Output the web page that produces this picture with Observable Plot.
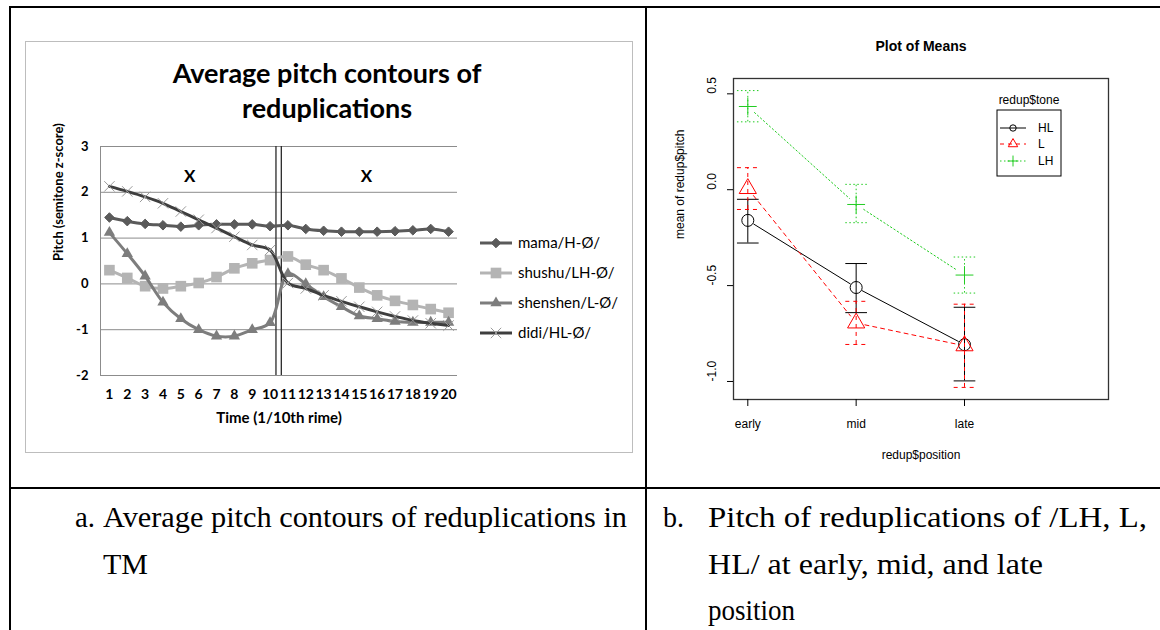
<!DOCTYPE html>
<html><head><meta charset="utf-8">
<script src="https://cdn.jsdelivr.net/npm/d3@7"></script>
<script src="https://cdn.jsdelivr.net/npm/@observablehq/plot@0.6"></script>
<style>
body{margin:0;background:#fff;}
#page{position:relative;width:1160px;height:630px;overflow:hidden;background:#fff;}
.bar{position:absolute;background:#000;}
.abs{position:absolute;}
#leftFrame{position:absolute;left:25px;top:41px;width:606px;height:410px;border:1.5px solid #bdbdbd;}
#leftTitle{position:absolute;left:77px;top:55px;width:500px;text-align:center;font-family:Lato,sans-serif;font-weight:bold;font-size:27px;line-height:35px;color:#000;}
.cap{position:absolute;font-family:"Liberation Serif","Times New Roman",serif;font-size:29px;line-height:46.5px;height:46.5px;color:#000;white-space:nowrap;transform-origin:0 50%;}
</style></head><body>
<div id="page">
  <div class="bar" style="left:9px;top:6px;width:1151px;height:2px"></div>
  <div class="bar" style="left:9px;top:6px;width:2px;height:624px"></div>
  <div class="bar" style="left:645px;top:6px;width:2px;height:624px"></div>
  <div class="bar" style="left:9px;top:487px;width:1151px;height:2px"></div>
  <div id="leftFrame"></div>
  <div id="leftTitle">Average pitch contours of<br>reduplications</div>
  <div id="leftPlot" class="abs" style="left:27px;top:43px"></div>
  <div id="rightPlot" class="abs" style="left:648px;top:14px"></div>
  <svg id="overlay" class="abs" style="left:0;top:0" width="1160" height="630"></svg>
  <div class="cap" data-w="20" style="left:75px;top:494px">a.</div>
  <div class="cap" data-w="524" style="left:103px;top:494px">Average pitch contours of reduplications in</div>
  <div class="cap" data-w="45" style="left:103px;top:540.5px">TM</div>
  <div class="cap" data-w="21" style="left:663px;top:494px">b.</div>
  <div class="cap" data-w="439" style="left:708px;top:494px">Pitch of reduplications of /LH, L,</div>
  <div class="cap" data-w="335" style="left:708px;top:540.5px">HL/ at early, mid, and late</div>
  <div class="cap" data-w="87" style="left:708px;top:587px">position</div>
</div>
<script>
// ---------- Data: chart a ----------
const timeSteps = [1,2,3,4,5,6,7,8,9,10,11,12,13,14,15,16,17,18,19,20];
const seriesNames = ["mama/H-Ø/","shushu/LH-Ø/","shenshen/L-Ø/","didi/HL-Ø/"];
const mamaPitch     = [1.45,1.37,1.31,1.28,1.25,1.28,1.30,1.30,1.30,1.26,1.28,1.20,1.16,1.14,1.14,1.14,1.15,1.17,1.20,1.14];
const shushuPitch   = [0.30,0.13,-0.05,-0.10,-0.05,0.02,0.15,0.34,0.45,0.52,0.60,0.42,0.30,0.12,-0.08,-0.25,-0.37,-0.46,-0.55,-0.63];
const shenshenPitch = [1.12,0.66,0.17,-0.40,-0.76,-1.00,-1.14,-1.14,-1.00,-0.85,0.22,0.00,-0.28,-0.50,-0.70,-0.76,-0.82,-0.84,-0.84,-0.84];
const didiPitch     = [2.13,2.02,1.90,1.76,1.58,1.40,1.22,1.03,0.85,0.74,0.02,-0.10,-0.25,-0.38,-0.50,-0.61,-0.71,-0.80,-0.86,-0.91];
const pitchTicks = [-2,-1,0,1,2,3];
const syllableMarks = [{label:"X", time:5.5, pitch:2.35},{label:"X", time:15.4, pitch:2.35}];
const syllableBoundary = [10.33, 10.63];

// ---------- Data: chart b ----------
const positions = ["early","mid","late"];
const tones = ["HL","L","LH"];
const hlMean  = [-0.160,-0.510,-0.808];
const hlUpper = [-0.050,-0.385,-0.613];
const hlLower = [-0.278,-0.641,-0.997];
const lMean   = [0.006,-0.695,-0.814];
const lUpper  = [0.115,-0.582,-0.597];
const lLower  = [-0.103,-0.807,-1.031];
const lhMean  = [0.434,-0.077,-0.445];
const lhUpper = [0.517,0.028,-0.351];
const lhLower = [0.354,-0.172,-0.539];
const meanTicks = [-1.0,-0.5,0.0,0.5];

// ---------- Chart a ----------
const pitchSeries = [mamaPitch, shushuPitch, shenshenPitch, didiPitch];
const styleA = [
  {line:"#5a5a5a", symbol:"diamond2", r:4.3, fill:"#5a5a5a", stroke:"#5a5a5a", sw:1},
  {line:"#b4b4b4", symbol:"square", r:6, fill:"#b4b4b4", stroke:"none", sw:0},
  {line:"#7d7d7d", symbol:"triangle", r:4.2, fill:"#7d7d7d", stroke:"none", sw:0},
  {line:"#3e3e3e", symbol:"times", r:4.8, fill:"none", stroke:"#9a9a9a", sw:1}
];
const rowsA = seriesNames.map((name,k)=>timeSteps.map((t,i)=>({series:name, time:t, pitch:pitchSeries[k][i]})));
const xDomainA = [0.5, 20.5];
const marksA = [
  Plot.ruleY(pitchTicks, {stroke:"#8c8c8c", strokeWidth:1}),
  Plot.ruleX([xDomainA[0]], {stroke:"#8c8c8c", strokeWidth:1}),
  Plot.ruleX(syllableBoundary, {stroke:"#2a2a2a", strokeWidth:1.3}),
  Plot.axisX({ticks:timeSteps, tickSize:0, tickPadding:14, fontWeight:"bold", fontSize:14, tickFormat:d=>String(d), label:null}),
  Plot.axisY({ticks:pitchTicks, tickSize:0, tickPadding:12, fontWeight:"bold", fontSize:13, tickFormat:d=>String(d), label:null}),
  Plot.text(syllableMarks, {x:"time", y:"pitch", text:"label", fontWeight:"bold", fontSize:17}),
  Plot.text(["Pitch (semitone z-score)"], {frameAnchor:"left", dx:-42, rotate:-90, fontWeight:"bold", fontSize:13}),
  Plot.text(["Time (1/10th rime)"], {frameAnchor:"bottom", dy:47, fontWeight:"bold", fontSize:15})
];
rowsA.forEach((rows,k)=>{
  const s = styleA[k];
  marksA.push(Plot.line(rows, {x:"time", y:"pitch", curve:"catmull-rom", stroke:s.line, strokeWidth:3}));
  marksA.push(Plot.dot(rows, {x:"time", y:"pitch", symbol:s.symbol, r:s.r, fill:s.fill, stroke:s.stroke, strokeWidth:s.sw}));
});
const plotA = Plot.plot({
  width:604, height:408, marginLeft:73, marginRight:174, marginTop:103, marginBottom:76,
  x:{domain:xDomainA, label:null}, y:{domain:[-2,3], label:null},
  style:{fontFamily:"Lato, sans-serif", background:"transparent", color:"#000", overflow:"visible"},
  marks:marksA
});
document.getElementById("leftPlot").appendChild(plotA);

// ---------- Chart b ----------
const meanSeries = [hlMean, lMean, lhMean], upperSeries=[hlUpper,lUpper,lhUpper], lowerSeries=[hlLower,lLower,lhLower];
const styleB = [
  {color:"#000000", dash:null, symbol:"circle", r:6, inset:7},
  {color:"#ff0000", dash:"4,4", symbol:"triangle2", r:8.2, inset:9},
  {color:"#22cc22", dash:"1.5,2.5", symbol:"plus", r:5.8, inset:9}
];
const cap = 0.1;
const marksB = [
  Plot.frame({stroke:"#333", strokeWidth:1.3}),
  Plot.axisY({ticks:meanTicks, tickSize:6, tickFormat:()=>"", label:null}),
  Plot.text(meanTicks, {y:d=>d, text:d=>d.toFixed(1), frameAnchor:"left", dx:-21, rotate:-90, fontSize:12}),
  Plot.axisX({ticks:[1,2,3], tickSize:7, tickPadding:13, fontSize:12, tickFormat:d=>positions[d-1], label:null}),
  Plot.text(["redup$position"], {frameAnchor:"bottom", dy:59, fontSize:12}),
  Plot.text(["mean of redup$pitch"], {frameAnchor:"left", dx:-53, rotate:-90, fontSize:12}),
  Plot.text(["Plot of Means"], {frameAnchor:"top", dy:-37, fontSize:14, fontWeight:"bold"})
];
tones.forEach((tone,k)=>{
  const s = styleB[k];
  const rows = positions.map((p,i)=>({tone, pos:i+1, mean:meanSeries[k][i], upper:upperSeries[k][i], lower:lowerSeries[k][i]}));
  const segs = rows.slice(1).map((d,i)=>({x1:rows[i].pos, y1:rows[i].mean, x2:d.pos, y2:d.mean}));
  const dash = s.dash ? {strokeDasharray:s.dash} : {};
  marksB.push(Plot.arrow(segs, {x1:"x1", y1:"y1", x2:"x2", y2:"y2", headLength:0, inset:s.inset, stroke:s.color, strokeWidth:1, ...dash}));
  marksB.push(Plot.ruleX(rows, {x:"pos", y1:"lower", y2:"upper", stroke:s.color, strokeWidth:1, ...dash}));
  marksB.push(Plot.link(rows, {x1:d=>d.pos-cap, x2:d=>d.pos+cap, y1:"upper", y2:"upper", stroke:s.color, strokeWidth:1, ...dash}));
  marksB.push(Plot.link(rows, {x1:d=>d.pos-cap, x2:d=>d.pos+cap, y1:"lower", y2:"lower", stroke:s.color, strokeWidth:1, ...dash}));
  marksB.push(Plot.dot(rows, {x:"pos", y:"mean", symbol:s.symbol, r:s.r, stroke:s.color, fill:"none", strokeWidth:1}));
});
const plotB = Plot.plot({
  width:500, height:466, marginLeft:85, marginRight:40, marginTop:64, marginBottom:81,
  x:{domain:[0.868,4.329], label:null}, y:{domain:[-1.094,0.58], label:null},
  style:{fontFamily:"'Liberation Sans', Arial, sans-serif", background:"transparent", color:"#000", overflow:"visible"},
  marks:marksB
});
document.getElementById("rightPlot").appendChild(plotB);

// ---------- Legends ----------
const ov = d3.select("#overlay");
const symMap = {diamond2:d3.symbolDiamond2, square:d3.symbolSquare, triangle:d3.symbolTriangle, times:d3.symbolTimes, circle:d3.symbolCircle, triangle2:d3.symbolTriangle2, plus:d3.symbolPlus};
const legA = [243,273,303,333];
seriesNames.forEach((name,k)=>{
  const s = styleA[k], y = legA[k];
  ov.append("line").attr("x1",480).attr("x2",512).attr("y1",y).attr("y2",y).attr("stroke",s.line).attr("stroke-width",3);
  ov.append("path").attr("d", d3.symbol(symMap[s.symbol], Math.PI*s.r*s.r)()).attr("transform",`translate(496,${y})`)
    .attr("fill",s.fill).attr("stroke",s.stroke).attr("stroke-width",s.sw);
  ov.append("text").attr("x",518).attr("y",y).attr("dy","0.35em").attr("font-family","Lato, sans-serif").attr("font-size",15).text(name);
});
ov.append("text").attr("x",1029).attr("y",100).attr("dy","0.35em").attr("text-anchor","middle")
  .attr("font-family","'Liberation Sans', Arial, sans-serif").attr("font-size",12).text("redup$tone");
ov.append("rect").attr("x",997).attr("y",110).attr("width",64).attr("height",66).attr("fill","none").attr("stroke","#000").attr("stroke-width",1);
const legB = [128,144,161];
const legR = [3.2,4.5,3.6];
tones.forEach((tone,k)=>{
  const s = styleB[k], y = legB[k];
  const ln = ov.append("line").attr("x1",1000).attr("x2",1026).attr("y1",y).attr("y2",y).attr("stroke",s.color).attr("stroke-width",1);
  if (s.dash) ln.attr("stroke-dasharray", s.dash);
  ov.append("path").attr("d", d3.symbol(symMap[s.symbol], Math.PI*legR[k]*legR[k])()).attr("transform",`translate(1013,${y})`)
    .attr("fill","none").attr("stroke",s.color).attr("stroke-width",1);
  ov.append("text").attr("x",1038).attr("y",y).attr("dy","0.35em").attr("font-family","'Liberation Sans', Arial, sans-serif").attr("font-size",12).text(tone);
});

// ---------- Caption fitting ----------
document.querySelectorAll(".cap").forEach(el=>{
  const target = +el.dataset.w;
  const w = el.getBoundingClientRect().width;
  if (w > 0 && target > 0) el.style.transform = `scaleX(${target / w})`;
});
</script>
</body></html>
